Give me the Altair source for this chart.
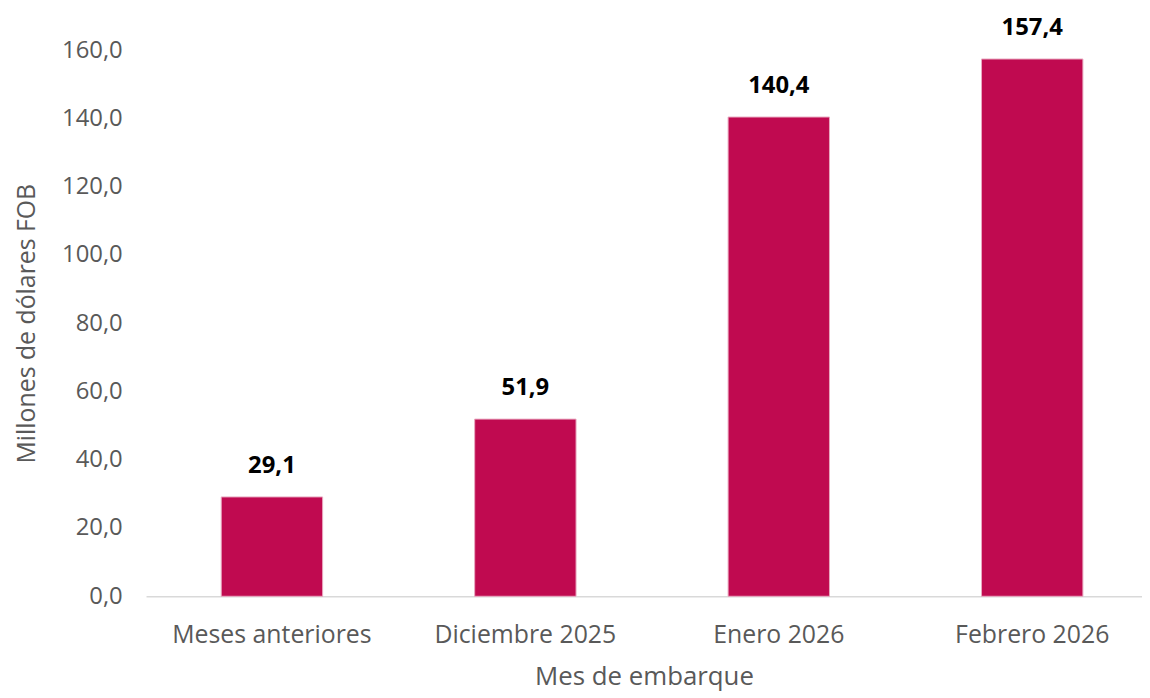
import altair as alt
import pandas as pd

categories = ["Meses anteriores", "Diciembre 2025", "Enero 2026", "Febrero 2026"]
values = [29.1, 51.9, 140.4, 157.4]

df = pd.DataFrame({"mes": categories, "valor": values})
df["etiqueta"] = [f"{v:.1f}".replace(".", ",") for v in values]

FONT = "Open Sans"
GRAY = "#595959"

x = alt.X("mes:N", sort=categories, title="Mes de embarque",
          scale=alt.Scale(paddingInner=0.6, paddingOuter=0.265, align=0.56),
          axis=alt.Axis(labelAngle=0, labelFontSize=25, labelColor=GRAY, labelFont=FONT, labelLimit=0,
                        titleFontSize=26, titleColor=GRAY, titleFont=FONT, titleFontWeight="normal",
                        ticks=False, domainColor="#D9D9D9", domainWidth=1.5,
                        labelPadding=27, titlePadding=16))
y = alt.Y("valor:Q", title="Millones de dólares FOB",
          scale=alt.Scale(domain=[0, 160], nice=False),
          axis=alt.Axis(values=[0, 20, 40, 60, 80, 100, 120, 140, 160],
                        labelExpr="replace(format(datum.value, '.1f'), '.', ',')",
                        labelFontSize=24, labelColor=GRAY, labelFont=FONT,
                        titleFontSize=25, titleColor=GRAY, titleFont=FONT, titleFontWeight="normal",
                        ticks=False, domain=False, grid=False, labelPadding=24, titlePadding=22))

bars = alt.Chart(df).mark_bar(color="#C00A50", stroke="#E9A8C0", strokeWidth=1).encode(x=x, y=y)
labels = alt.Chart(df).mark_text(fontSize=24, fontWeight="bold", font=FONT, color="black",
                                 baseline="bottom", dy=-19, clip=False).encode(
    x=alt.X("mes:N", sort=categories), y="valor:Q", text="etiqueta:N")

chart = alt.layer(bars, labels).properties(
    width=1003, height=550,
    autosize=alt.AutoSizeParams(type="none"),
    padding={"left": 139, "top": 40, "right": 0, "bottom": 98},
).configure_view(stroke=None)

chart.save("out.html", embed_options={"renderer": "svg", "actions": False})
